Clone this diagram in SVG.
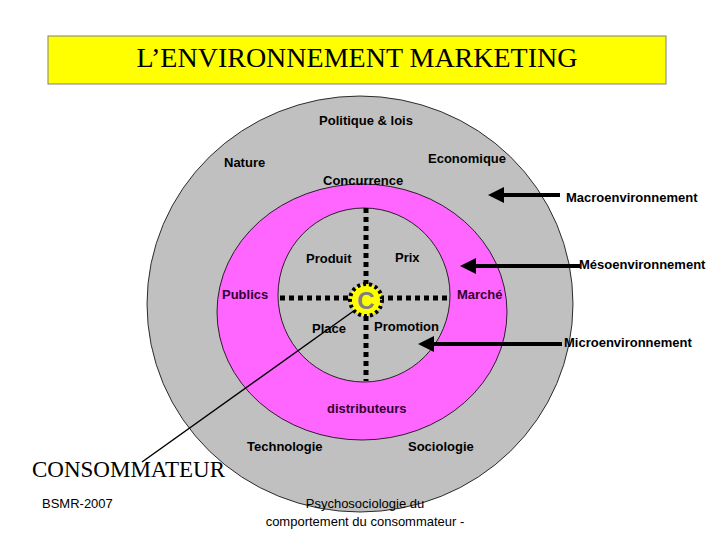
<svg xmlns="http://www.w3.org/2000/svg" width="720" height="540" viewBox="0 0 720 540">
<defs>
<style>
.t{font-family:"Liberation Sans",Arial,sans-serif;font-size:13px;font-weight:bold;fill:#000}
.p{fill:#330033}
.r{font-family:"Liberation Sans",Arial,sans-serif;font-size:13px;font-weight:bold;fill:#000}
.a{stroke:#000;stroke-width:4;fill:none}
.d{stroke:#000;stroke-width:5;stroke-dasharray:5 4;fill:none}
</style>
<marker id="ah" markerWidth="4" markerHeight="4" refX="3" refY="2" orient="auto" markerUnits="strokeWidth"><path d="M0,0L4,2L0,4z" fill="#000"/></marker>
</defs>
<rect width="720" height="540" fill="#fff"/>
<g id="title"><rect x="48" y="36" width="618" height="48" fill="#ffff00" stroke="#808080"/>
<text x="357" y="67" text-anchor="middle" font-family="Liberation Serif,serif" font-size="28">L’ENVIRONNEMENT MARKETING</text></g>
<g id="macro"><ellipse cx="360" cy="304" rx="213" ry="208" fill="#c0c0c0" stroke="#000" stroke-width="0.8"/>
<text class="t" x="366" y="125" text-anchor="middle">Politique  &amp; lois</text>
<text class="t" x="224" y="167">Nature</text>
<text class="t" x="428" y="163">Economique</text>
<text class="t" x="247" y="451">Technologie</text>
<text class="t" x="408" y="451">Sociologie</text></g>
<g id="meso"><ellipse cx="362" cy="312" rx="145" ry="128" fill="#ff66ff" stroke="#000" stroke-width="0.8"/>
<text class="t" x="323" y="185">Concurrence</text>
<text class="t p" x="222" y="299">Publics</text>
<text class="t p" x="457" y="299">Marché</text>
<text class="t p" x="327" y="413">distributeurs</text></g>
<g id="micro"><ellipse cx="364" cy="295" rx="86" ry="87" fill="#c0c0c0" stroke="#000" stroke-width="0.8"/>
<text class="t" x="306" y="263">Produit</text>
<text class="t" x="395" y="262">Prix</text>
<text class="t" x="312" y="333">Place</text>
<text class="t" x="374" y="331">Promotion</text></g>
<g id="connectors">
<line class="d" x1="366" y1="208" x2="366" y2="381"/>
<line class="d" x1="280" y1="298" x2="449" y2="298"/>
<line class="a" x1="560" y1="195" x2="492" y2="195" marker-end="url(#ah)"/>
<line class="a" x1="580" y1="266" x2="464" y2="266" marker-end="url(#ah)"/>
<line class="a" x1="562" y1="344" x2="422" y2="344" marker-end="url(#ah)"/>
<line x1="142" y1="462" x2="355" y2="310" stroke="#000" stroke-width="1.5"/>
</g>
<g id="consumer"><circle cx="366" cy="300" r="16" fill="#ffff00" stroke="#000" stroke-width="4" stroke-dasharray="3 3"/>
<text x="366" y="309" text-anchor="middle" font-family="Liberation Sans,sans-serif" font-size="24" font-weight="bold" fill="#808080">C</text></g>
<g id="labels">
<text class="r" x="566" y="202">Macroenvironnement</text>
<text class="r" x="579" y="269">Mésoenvironnement</text>
<text class="r" x="564" y="347">Microenvironnement</text>
<text x="32" y="477" font-family="Liberation Serif,serif" font-size="23">CONSOMMATEUR</text>
<text x="42" y="508" font-family="Liberation Sans,sans-serif" font-size="13">BSMR-2007</text>
<text x="365" y="508" text-anchor="middle" font-family="Liberation Sans,sans-serif" font-size="13">Psychosociologie du</text>
<text x="365" y="526" text-anchor="middle" font-family="Liberation Sans,sans-serif" font-size="13">comportement du consommateur -</text>
</g>
</svg>
